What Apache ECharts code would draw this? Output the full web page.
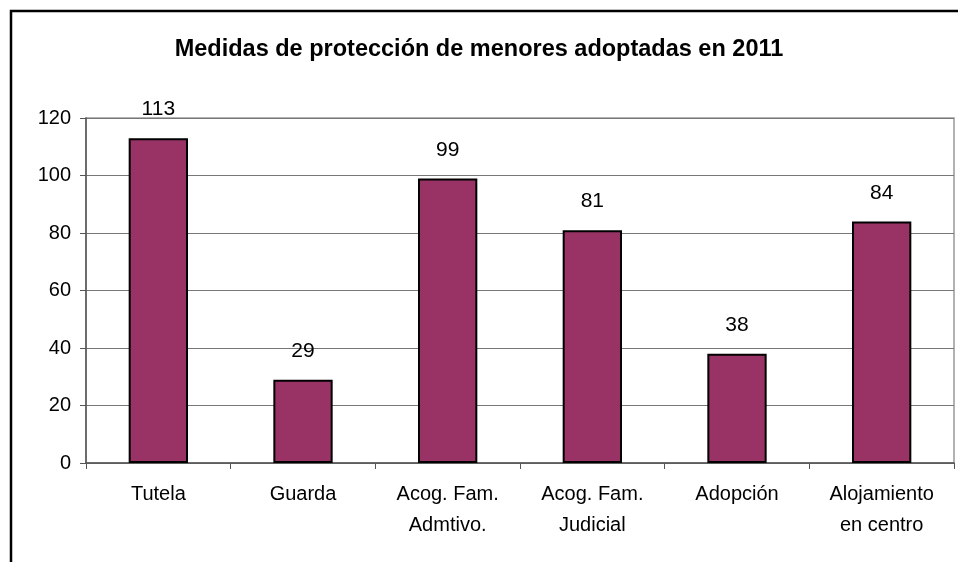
<!DOCTYPE html>
<html>
<head>
<meta charset="utf-8">
<script src="https://cdn.jsdelivr.net/npm/echarts@6/dist/echarts.min.js"></script>
<style>
  html, body { margin: 0; padding: 0; background: #fff; }
  #chart { width: 958px; height: 562px; }
</style>
</head>
<body>
<div id="chart"></div>
<script>
const categories = ['Tutela', 'Guarda', 'Acog. Fam.\nAdmtivo.', 'Acog. Fam.\nJudicial', 'Adopción', 'Alojamiento\nen centro']
const values = [113, 29, 99, 81, 38, 84]
const yTicks = [0, 20, 40, 60, 80, 100, 120]

const chart = echarts.init(document.getElementById('chart'))
const font = 'Liberation Sans, Arial, sans-serif'

const option = {
  animation: false,
  backgroundColor: '#fff',
  title: {
    text: 'Medidas de protección de menores adoptadas en 2011',
    left: 'center',
    top: 33,
    textStyle: { fontFamily: font, fontSize: 23.5, fontWeight: 'bold', color: '#000' }
  },
  graphic: [{
    type: 'rect',
    shape: { x: 11, y: 11, width: 960, height: 560 },
    style: { fill: 'none', stroke: '#000', lineWidth: 2.5 },
    silent: true
  }, {
    type: 'rect',
    shape: { x: 86, y: 118, width: 868, height: 345 },
    style: { fill: 'none', stroke: '#999', lineWidth: 1.5 },
    silent: true,
    z: -1
  }],
  grid: { left: 86, right: 4, top: 118, bottom: 99 },
  xAxis: {
    type: 'category',
    data: categories,
    axisLine: { lineStyle: { color: '#555', width: 1.5 } },
    axisTick: { show: true, length: 6, lineStyle: { color: '#555' } },
    axisLabel: { fontFamily: font, fontSize: 20, color: '#000', lineHeight: 31, margin: 16 }
  },
  yAxis: {
    type: 'value',
    min: yTicks[0],
    max: yTicks[yTicks.length - 1],
    interval: 20,
    axisLine: { show: true, lineStyle: { color: '#555', width: 1.5 } },
    axisTick: { show: true, length: 6, lineStyle: { color: '#555' } },
    axisLabel: { fontFamily: font, fontSize: 20, color: '#000', margin: 15 },
    splitLine: { lineStyle: { color: '#777', width: 1 } }
  },
  series: [{
    type: 'bar',
    data: values,
    barWidth: '41%',
    itemStyle: { color: '#993366', borderColor: '#000', borderWidth: 2 },
    label: {
      show: true,
      position: 'top',
      distance: 18,
      fontFamily: font,
      fontSize: 21,
      color: '#000'
    }
  }]
}
chart.setOption(option)
</script>
</body>
</html>
